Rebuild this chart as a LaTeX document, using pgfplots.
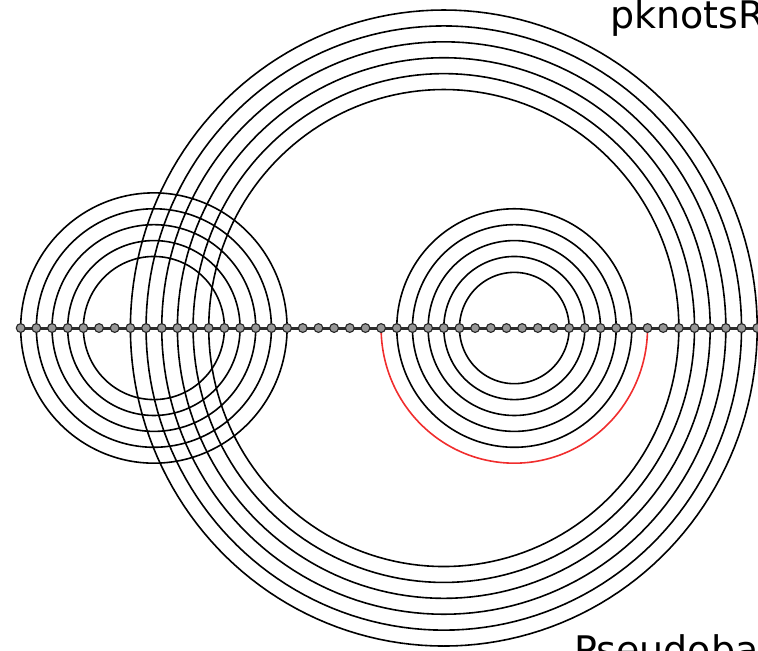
\documentclass[border=0pt]{standalone}
\usepackage{fontspec}
\setmainfont{DejaVu Sans}
\usepackage{pgfplots}
\usepackage{pgfplotstable}
\pgfplotsset{compat=1.18}

\definecolor{pairred}{RGB}{240,45,45}
\definecolor{backbone}{RGB}{45,45,45}
\definecolor{basefill}{RGB}{150,150,150}

% base pairs: positions i < j, side +1 = arc above the backbone, -1 = below
\pgfplotstableread{
i  j  side color
0  17  1  black
0  17 -1  black
1  16  1  black
1  16 -1  black
2  15  1  black
2  15 -1  black
3  14  1  black
3  14 -1  black
4  13  1  black
4  13 -1  black
7  47  1  black
7  47 -1  black
8  46  1  black
8  46 -1  black
9  45  1  black
9  45 -1  black
10 44  1  black
10 44 -1  black
11 43  1  black
11 43 -1  black
12 42  1  black
12 42 -1  black
24 39  1  black
24 39 -1  black
25 38  1  black
25 38 -1  black
26 37  1  black
26 37 -1  black
27 36  1  black
27 36 -1  black
28 35  1  black
28 35 -1  black
23 40 -1  pairred
}\pairs

\begin{document}
\begin{tikzpicture}
\begin{axis}[
  x=7.835pt, y=7.95pt,
  xmin=-1.32, xmax=47.05,
  ymin=-20.25, ymax=20.63,
  hide axis, clip=false,
  arcline/.style={line width=0.8pt, no markers},
]
  % one semicircle per base pair
  \pgfplotstablegetrowsof{\pairs}
  \pgfmathtruncatemacro{\lastrow}{\pgfplotsretval-1}
  \pgfplotsforeachungrouped \r in {0,...,\lastrow}{%
    \pgfplotstablegetelem{\r}{i}\of\pairs \let\ai\pgfplotsretval
    \pgfplotstablegetelem{\r}{j}\of\pairs \let\aj\pgfplotsretval
    \pgfplotstablegetelem{\r}{side}\of\pairs \let\aside\pgfplotsretval
    \pgfplotstablegetelem{\r}{color}\of\pairs \let\acol\pgfplotsretval
    \edef\doarc{\noexpand\addplot[\acol, arcline, domain=0:180, samples=91]
      ({(\ai+\aj)/2+(\aj-\ai)/2*cos(x)},{\aside*(\aj-\ai)/2*sin(x)});}%
    \doarc
  }

  % sequence backbone with one mark per nucleotide
  \addplot[backbone, line width=1.5pt,
    mark=*, mark size=2.2pt,
    mark options={fill=basefill, draw=black!85, line width=0.55pt}]
  coordinates {
    (0,0) (1,0) (2,0) (3,0) (4,0) (5,0) (6,0) (7,0) (8,0) (9,0)
    (10,0) (11,0) (12,0) (13,0) (14,0) (15,0) (16,0) (17,0) (18,0) (19,0)
    (20,0) (21,0) (22,0) (23,0) (24,0) (25,0) (26,0) (27,0) (28,0) (29,0)
    (30,0) (31,0) (32,0) (33,0) (34,0) (35,0) (36,0) (37,0) (38,0) (39,0)
    (40,0) (41,0) (42,0) (43,0) (44,0) (45,0) (46,0) (47,0)
  };

  \node[anchor=base west, inner sep=0pt, font=\fontsize{19}{23}\selectfont]
    at (axis cs:37.6,18.85) {pknotsRG};
  \node[anchor=base west, inner sep=0pt, font=\fontsize{19}{23}\selectfont]
    at (axis cs:35.3,-21.1) {Pseudobase};
\end{axis}
\pgfresetboundingbox
\path[use as bounding box] (current axis.south west) rectangle (current axis.north east);
\end{tikzpicture}
\end{document}
